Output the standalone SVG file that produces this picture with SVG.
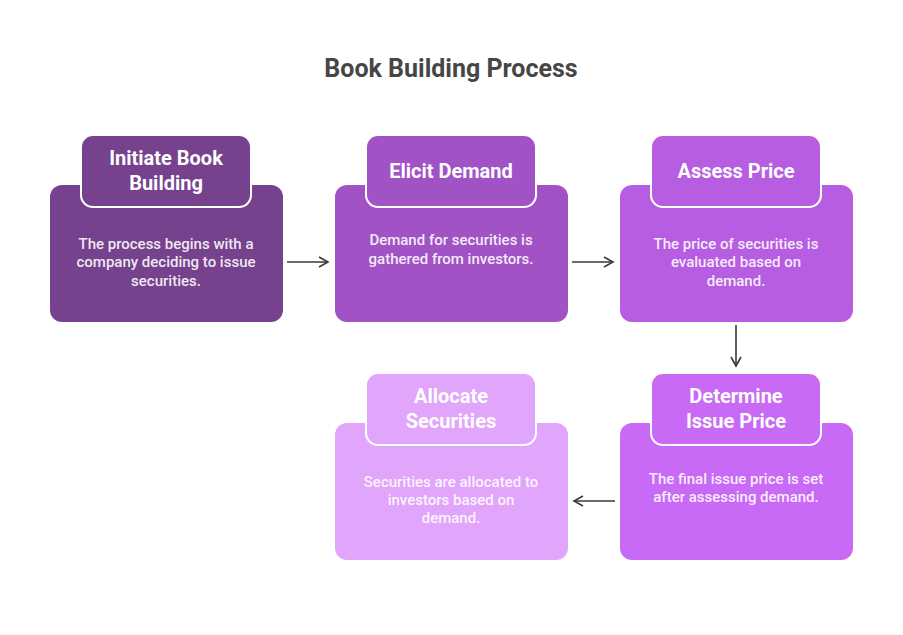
<svg xmlns="http://www.w3.org/2000/svg" width="903" height="635" viewBox="0 0 903 635">
<defs>
<marker id="ah" viewBox="0 0 12 12" refX="10" refY="6" markerWidth="12" markerHeight="12" markerUnits="userSpaceOnUse" orient="auto">
<path d="M1,1 L10,6 L1,11" fill="none" stroke="#3a3a3a" stroke-width="1.6"/>
</marker>
</defs>
<style>
.t{font-family:Roboto,"Liberation Sans",sans-serif;font-weight:700;font-size:20px;fill:#fff;text-anchor:middle}
.d{font-family:Roboto,"Liberation Sans",sans-serif;font-weight:500;font-size:15px;fill:#fff;fill-opacity:0.9;text-anchor:middle}
.tab{stroke:#fff;stroke-width:2}
.c{stroke:#3a3a3a;stroke-width:1.6;fill:none;marker-end:url(#ah)}
</style>
<rect width="903" height="635" fill="#fff"/>
<text x="451" y="77" font-family="Roboto,'Liberation Sans',sans-serif" font-weight="700" font-size="25" fill="#464646" text-anchor="middle">Book Building Process</text>
<g id="connectors">
<line class="c" x1="287" y1="262" x2="328" y2="262"/>
<line class="c" x1="572" y1="262" x2="613" y2="262"/>
<line class="c" x1="736" y1="325" x2="736" y2="366"/>
<line class="c" x1="615" y1="501" x2="574" y2="501"/>
</g>
<g id="n1">
<rect x="50" y="185" width="233" height="137" rx="12" fill="#77428D"/>
<rect class="tab" x="81" y="135" width="170" height="72" rx="12" fill="#77428D"/>
<text class="t" x="166" y="165">Initiate Book</text>
<text class="t" x="166" y="190">Building</text>
<text class="d" x="166" y="249">The process begins with a</text>
<text class="d" x="166" y="267">company deciding to issue</text>
<text class="d" x="166" y="286">securities.</text>
</g>
<g id="n2">
<rect x="335" y="185" width="233" height="137" rx="12" fill="#A153C6"/>
<rect class="tab" x="366" y="135" width="170" height="72" rx="12" fill="#A153C6"/>
<text class="t" x="451" y="178">Elicit Demand</text>
<text class="d" x="451" y="245">Demand for securities is</text>
<text class="d" x="451" y="264">gathered from investors.</text>
</g>
<g id="n3">
<rect x="620" y="185" width="233" height="137" rx="12" fill="#B65DE2"/>
<rect class="tab" x="651" y="135" width="170" height="72" rx="12" fill="#B65DE2"/>
<text class="t" x="736" y="178">Assess Price</text>
<text class="d" x="736" y="249">The price of securities is</text>
<text class="d" x="736" y="267">evaluated based on</text>
<text class="d" x="736" y="286">demand.</text>
</g>
<g id="n4">
<rect x="620" y="423" width="233" height="137" rx="12" fill="#C96AF6"/>
<rect class="tab" x="651" y="373" width="170" height="72" rx="12" fill="#C96AF6"/>
<text class="t" x="736" y="403">Determine</text>
<text class="t" x="736" y="428">Issue Price</text>
<text class="d" x="736" y="484">The final issue price is set</text>
<text class="d" x="736" y="502">after assessing demand.</text>
</g>
<g id="n5">
<rect x="335" y="423" width="233" height="137" rx="12" fill="#E1A5FB"/>
<rect class="tab" x="366" y="373" width="170" height="72" rx="12" fill="#E1A5FB"/>
<text class="t" x="451" y="403">Allocate</text>
<text class="t" x="451" y="428">Securities</text>
<text class="d" x="451" y="487">Securities are allocated to</text>
<text class="d" x="451" y="505">investors based on</text>
<text class="d" x="451" y="523">demand.</text>
</g>
</svg>
